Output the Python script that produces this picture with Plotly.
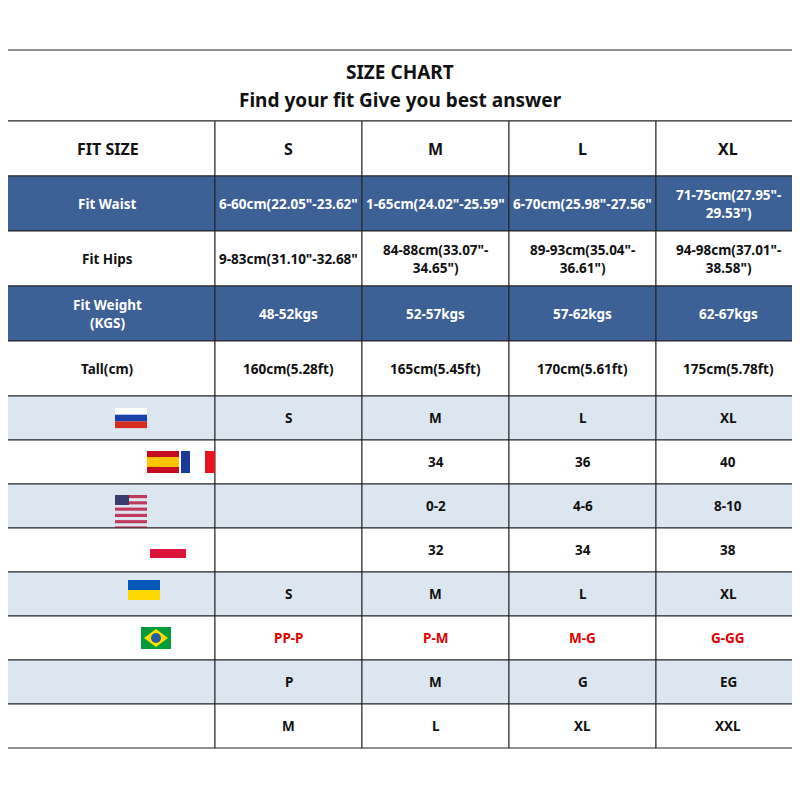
import plotly.graph_objects as go

title_lines = ["SIZE CHART", "Find your fit Give you best answer"]
header = ["FIT SIZE", "S", "M", "L", "XL"]
big_rows = [
    ["Fit Waist", '6-60cm(22.05"-23.62"', '1-65cm(24.02"-25.59"', '6-70cm(25.98"-27.56"', '71-75cm(27.95"-<br>29.53")'],
    ["Fit Hips", '9-83cm(31.10"-32.68"', '84-88cm(33.07"-<br>34.65")', '89-93cm(35.04"-<br>36.61")', '94-98cm(37.01"-<br>38.58")'],
    ["Fit Weight<br>(KGS)", "48-52kgs", "52-57kgs", "57-62kgs", "62-67kgs"],
    ["Tall(cm)", "160cm(5.28ft)", "165cm(5.45ft)", "170cm(5.61ft)", "175cm(5.78ft)"],
]
big_fill = ["#3d6196", "#ffffff", "#3d6196", "#ffffff"]
small_rows = [
    ["Russia(Fit Size)", "S", "M", "L", "XL"],
    ["Spain/French(Fit Size)", "", "34", "36", "40"],
    ["USA (Fit Size)", "", "0-2", "4-6", "8-10"],
    ["Poland Size(Fit Size)", "", "32", "34", "38"],
    ["Ukraine (Fit Size)", "S", "M", "L", "XL"],
    ["Brazil Size(Fit Size)", "PP-P", "P-M", "M-G", "G-GG"],
    ["South America(Fit Size)", "P", "M", "G", "EG"],
    ["Southeast Asia(Fit Size)", "M", "L", "XL", "XXL"],
]
small_fill = ["#dce6f1", "#ffffff"] * 4

colx = [0, 215, 362, 509, 656, 800]
F = "Noto Sans"
fig = go.Figure()
shapes, ann = [], []

def rect(x0, y0, x1, y1, fill, line=True):
    shapes.append(dict(type="rect", x0=x0, y0=y0, x1=x1, y1=y1, fillcolor=fill,
                       line=dict(color="#222" if line else fill, width=1 if line else 0)))

def text(x, y, t, size=14, color="#111", anchor="center"):
    ann.append(dict(x=x, y=y, text="<b>" + t + "</b>", showarrow=False, xanchor=anchor,
                    font=dict(family=F, size=size, color=color)))

rect(0, 50, 800, 121, "#fff")
text(400, 72, title_lines[0], 19)
text(400, 100, title_lines[1], 19)

y = 121
for i, h in enumerate(header):
    rect(colx[i], y, colx[i + 1], y + 55, "#fff")
    text((colx[i] + colx[i + 1]) / 2, y + 28, h, 16)
y += 55
for r, fill in zip(big_rows, big_fill):
    tc = "#fff" if fill != "#ffffff" else "#111"
    for i, t in enumerate(r):
        rect(colx[i], y, colx[i + 1], y + 55, fill)
        text((colx[i] + colx[i + 1]) / 2, y + 28, t, 13.5, tc)
    y += 55
for k, (r, fill) in enumerate(zip(small_rows, small_fill)):
    for i, t in enumerate(r):
        rect(colx[i], y, colx[i + 1], y + 44, fill)
        if i == 0:
            text(4, y + 22, t, 12.5, anchor="left")
        else:
            text((colx[i] + colx[i + 1]) / 2, y + 22, t, 13.5, "#e00000" if k == 5 else "#111")
    c = y + 22
    if k == 0:
        for j, col in enumerate(["#fff", "#1c3fa8", "#d52b1e"]):
            rect(115, c - 10 + j * 6.7, 147, c - 10 + (j + 1) * 6.7, col, False)
    elif k == 1:
        rect(147, c - 11, 179, c - 5, "#c60b1e", False); rect(147, c - 5, 179, c + 5, "#ffc400", False)
        rect(147, c + 5, 179, c + 11, "#c60b1e", False)
        rect(181, c - 11, 190, c + 11, "#1a3a9a", False); rect(205, c - 11, 215, c + 11, "#e8131f", False)
    elif k == 2:
        for j in range(7):
            rect(115, c - 11 + j * 6.28, 147, c - 11 + j * 6.28 + 3.14, "#c0395a", False)
        rect(115, c - 11, 129, c - 1, "#3c3b6e", False)
    elif k == 3:
        rect(150, c - 1, 186, c + 8, "#dc143c", False)
    elif k == 4:
        rect(128, c - 14, 160, c - 4, "#0057b7", False); rect(128, c - 4, 160, c + 6, "#ffd700", False)
    elif k == 5:
        rect(141, c - 11, 171, c + 11, "#009b3a", False)
        shapes.append(dict(type="path", path=f"M 144 {c} L 156 {c-9} L 168 {c} L 156 {c+9} Z",
                           fillcolor="#fedf00", line=dict(width=0)))
        shapes.append(dict(type="circle", x0=151, y0=c - 5, x1=161, y1=c + 5, fillcolor="#2a5caa", line=dict(width=0)))
    y += 44

fig.update_layout(width=800, height=800, margin=dict(l=0, r=0, t=0, b=0),
                  paper_bgcolor="#fff", plot_bgcolor="#fff", shapes=shapes, annotations=ann,
                  xaxis=dict(range=[8, 808], visible=False, fixedrange=True),
                  yaxis=dict(range=[808, 8], visible=False, fixedrange=True), showlegend=False)
fig.add_trace(go.Scatter(x=[0], y=[0], mode="markers", marker=dict(opacity=0), hoverinfo="skip"))
fig.write_html("out.html")
